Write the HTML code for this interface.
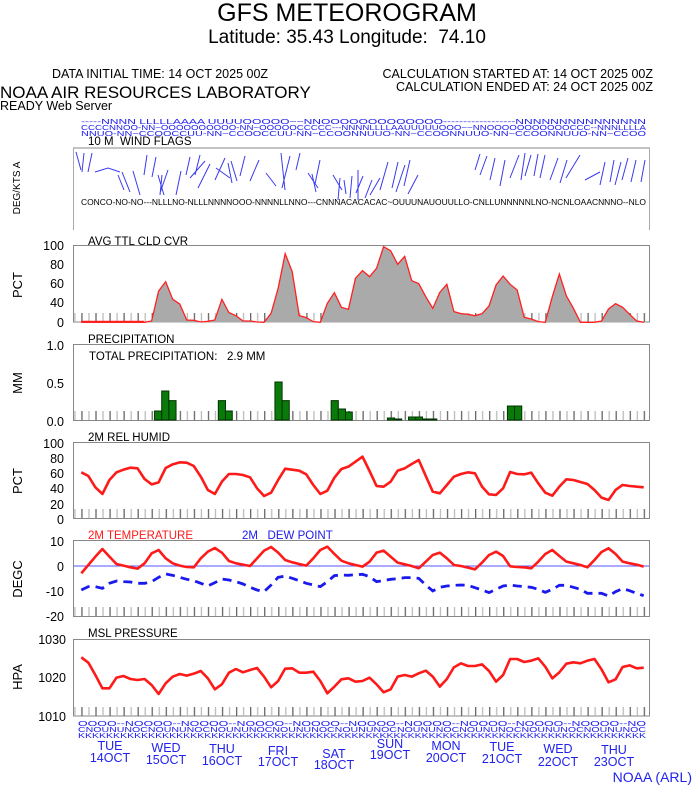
<!DOCTYPE html>
<html><head><meta charset="utf-8"><style>
html,body{margin:0;padding:0;background:#fff;}
svg{display:block;font-family:"Liberation Sans",sans-serif;}
svg text{white-space:pre;}
</style></head><body>
<svg width="694" height="788" viewBox="0 0 694 788" xmlns="http://www.w3.org/2000/svg">
<defs>
<pattern id="tk" patternUnits="userSpaceOnUse" x="81.3" y="0" width="14.06" height="10">
<rect x="0" y="0" width="1.3" height="10" fill="#666"/>
<rect x="7.03" y="0" width="1.3" height="10" fill="#bbb"/>
</pattern>
</defs>
<rect width="694" height="788" fill="#fff"/>
<text x="347" y="21" font-size="25" text-anchor="middle">GFS METEOROGRAM</text>
<text x="347" y="43" font-size="19" text-anchor="middle">Latitude: 35.43 Longitude:  74.10</text>
<text x="52" y="78" font-size="12.5">DATA INITIAL TIME: 14 OCT 2025 00Z</text>
<text x="653" y="78" font-size="12.5" text-anchor="end">CALCULATION STARTED AT: 14 OCT 2025 00Z</text>
<text x="653" y="91" font-size="12.5" text-anchor="end">CALCULATION ENDED AT: 24 OCT 2025 00Z</text>
<text x="0" y="98" font-size="17">NOAA AIR RESOURCES LABORATORY</text>
<text x="0" y="110" font-size="12.5">READY Web Server</text>
<g fill="#2222ee" font-size="7">
<text x="81" y="124" textLength="565" lengthAdjust="spacingAndGlyphs">-----NNNN LLLLLAAAA UUUUOOOOO~~NNOOOOOOOOOOOOO------------------NNNNNNNNNNNNNNN</text>
<text x="81" y="130" textLength="565" lengthAdjust="spacingAndGlyphs">CCCCNNOO-NN~OOOOOOOOOO-NN~OOOOOCCCCC---NNNNLLLLAAUUUUUOOO~~NNOOOOOOOOOOOCCC--NNNLLLLA</text>
<text x="81" y="136" textLength="565" lengthAdjust="spacingAndGlyphs">NNUO-NN~CCOOCCUU-NN~CCOOCCUU-NN~CCOONNUUO-NN~CCOONNUUO-NN~CCOONNUUO-NN~CCOO</text>
</g>
<text x="88" y="145" font-size="11.5">10 M  WIND FLAGS</text>
<line x1="73" y1="148" x2="650" y2="148" stroke="#888"/>
<line x1="73.5" y1="148" x2="73.5" y2="230" stroke="#aaa"/>
<line x1="649.5" y1="148" x2="649.5" y2="230" stroke="#aaa"/>
<text transform="translate(20,188) rotate(-90)" font-size="10" text-anchor="middle">DEG/KTS A</text>
<g stroke="#3a3aee" stroke-width="1" fill="none">
<path d="M76 152 L81 170 M84 153 L82 172 M92 153 L88 172 M95 172 L108 168 L120 172 M118 175 L124 190 M122 172 L130 192 M133 171 L140 195 M147 155 L144 175 M156 157 L152 177 M158 175 L164 195 M162 175 L160 195 M168 170 L160 193 M181 171 L176 195 M190 157 L186 175 M200 155 L195 175 M205 161 L190 178 M210 164 L198 188 M216 168 L230 178 M225 158 L215 180 M228 163 L232 183 M231 161 L237 181 M245 156 L240 176 M259 160 L250 181 M266 173 L276 186 M281 153 L285 190 M290 156 L282 188 M300 153 L296 170 M308 173 L318 188 M312 174 L316 192 M320 160 L315 184 M333 175 L342 190 M340 178 L338 200 M344 180 L346 194 M352 176 L350 198 M358 170 L358 200 M363 176 L356 193 M372 180 L365 198 M380 178 L370 195 M388 162 L380 190 M398 162 L392 188 M405 165 L396 192 M410 160 L404 186 M418 175 L408 194 M480 154 L475 170 M487 156 L480 175 M495 158 L490 180 M505 160 L500 186 M519 155 L510 178 M525 153 L521 180 M531 155 L525 176 M538 154 L534 176 M545 155 L540 178 M558 158 L550 180 M567 160 L560 183 M580 155 L566 178 M600 172 L585 180 M605 162 L600 185 M614 160 L610 182 M621 162 L615 185 M628 158 L622 180 M636 160 L631 182 M645 160 L641 182"/>
</g>
<text x="81" y="205" font-size="8.5" textLength="565" lengthAdjust="spacingAndGlyphs">CONCO-NO-NO---NLLLNO-NLLLNNNNOOO-NNNNLLNNO---CNNNACACACAC~OUUUNAUOUULLO-CNLLUNNNNNLNO-NCNLOAACNNNO--NLO</text>

<text x="88" y="245" font-size="11.5">AVG TTL CLD CVR</text>
<rect x="73.5" y="245.5" width="576" height="76.5" fill="#fff" stroke="#888"/>
<rect x="74" y="313" width="575" height="9" fill="url(#tk)"/>
<g transform="translate(81.3,235) scale(7.03,0.3333)">
<polygon fill="#aaaaaa" points="0,262 1,262 2,262 3,262 4,262 5,262 6,262 7,262 8,262 9,262 10,258 11,168 12,140 13,193 14,207 15,255 16,256 17,261 18,259 19,255 20,193 21,233 22,242 23,258 24,258 25,261 26,262 27,235 28,160 29,56 30,110 31,242 32,248 33,260 34,262 35,205 36,173 37,217 38,223 39,130 40,107 41,125 42,100 43,35 44,47 45,88 46,64 47,137 48,146 49,185 50,220 51,172 52,148 53,230 54,236 55,238 56,242 57,236 58,213 59,150 60,123 61,148 62,165 63,247 64,252 65,260 66,262 67,185 68,117 69,183 70,220 71,262 72,262 73,262 74,258 75,222 76,206 77,217 78,238 79,258 80,262"/>
<polyline fill="none" stroke="#ff2020" stroke-width="1.3" vector-effect="non-scaling-stroke" points="0,262 1,262 2,262 3,262 4,262 5,262 6,262 7,262 8,262 9,262 10,258 11,168 12,140 13,193 14,207 15,255 16,256 17,261 18,259 19,255 20,193 21,233 22,242 23,258 24,258 25,261 26,262 27,235 28,160 29,56 30,110 31,242 32,248 33,260 34,262 35,205 36,173 37,217 38,223 39,130 40,107 41,125 42,100 43,35 44,47 45,88 46,64 47,137 48,146 49,185 50,220 51,172 52,148 53,230 54,236 55,238 56,242 57,236 58,213 59,150 60,123 61,148 62,165 63,247 64,252 65,260 66,262 67,185 68,117 69,183 70,220 71,262 72,262 73,262 74,258 75,222 76,206 77,217 78,238 79,258 80,262"/>
</g>
<polyline fill="none" stroke="#ff2020" stroke-width="1.5" points="81,321.5 144,321.5"/>
<g font-size="12.5" text-anchor="end">
<text x="64" y="250">100</text><text x="64" y="269">80</text><text x="64" y="288">60</text><text x="64" y="307">40</text><text x="64" y="327">0</text>
</g>
<text transform="translate(22,285) rotate(-90)" font-size="13" text-anchor="middle">PCT</text>

<text x="88" y="343" font-size="11.5">PRECIPITATION</text>
<rect x="73.5" y="344.5" width="576" height="76" fill="#fff" stroke="#888"/>
<rect x="74" y="411" width="575" height="9" fill="url(#tk)"/>
<text x="89" y="360" font-size="11.5">TOTAL PRECIPITATION:   2.9 MM</text>
<g transform="translate(70,235) scale(0.3774,0.3333)" fill="#0a7a0a" stroke="#003300" stroke-width="1">
<rect x="224" y="528" width="19" height="27" vector-effect="non-scaling-stroke"/>
<rect x="243" y="468" width="19" height="87" vector-effect="non-scaling-stroke"/>
<rect x="262" y="497" width="19" height="58" vector-effect="non-scaling-stroke"/>
<rect x="393" y="497" width="19" height="58" vector-effect="non-scaling-stroke"/>
<rect x="412" y="528" width="18" height="27" vector-effect="non-scaling-stroke"/>
<rect x="543" y="441" width="19" height="114" vector-effect="non-scaling-stroke"/>
<rect x="562" y="497" width="19" height="58" vector-effect="non-scaling-stroke"/>
<rect x="692" y="497" width="19" height="58" vector-effect="non-scaling-stroke"/>
<rect x="711" y="522" width="19" height="33" vector-effect="non-scaling-stroke"/>
<rect x="730" y="531" width="18" height="24" vector-effect="non-scaling-stroke"/>
<rect x="841" y="549" width="19" height="6" vector-effect="non-scaling-stroke"/>
<rect x="860" y="552" width="19" height="3" vector-effect="non-scaling-stroke"/>
<rect x="897" y="546" width="19" height="9" vector-effect="non-scaling-stroke"/>
<rect x="916" y="546" width="18" height="9" vector-effect="non-scaling-stroke"/>
<rect x="934" y="552" width="38" height="3" vector-effect="non-scaling-stroke"/>
<rect x="1159" y="513" width="19" height="42" vector-effect="non-scaling-stroke"/>
<rect x="1178" y="513" width="19" height="42" vector-effect="non-scaling-stroke"/>
</g>
<g font-size="12.5" text-anchor="end">
<text x="64" y="350">1.0</text><text x="64" y="388">0.5</text><text x="64" y="426">0.0</text>
</g>
<text transform="translate(22,383) rotate(-90)" font-size="13" text-anchor="middle">MM</text>

<text x="88" y="441" font-size="11.5">2M REL HUMID</text>
<rect x="73.5" y="442.5" width="576" height="76" fill="#fff" stroke="#888"/>
<rect x="74" y="509" width="575" height="9" fill="url(#tk)"/>
<g transform="translate(81.3,430) scale(7.03,0.3333)">
<polyline fill="none" stroke="#ff1a1a" stroke-width="2.6" vector-effect="non-scaling-stroke" stroke-linejoin="round" points="0,127 1,138 2,172 3,192 4,150 5,127 6,119 7,113 8,115 9,147 10,163 11,157 12,114 13,103 14,97 15,98 16,108 17,140 18,180 19,192 20,155 21,132 22,132 23,135 24,142 25,175 26,198 27,188 28,150 29,116 30,119 31,122 32,133 33,165 34,192 35,182 36,143 37,117 38,110 39,95 40,80 41,123 42,168 43,170 44,155 45,122 46,115 47,102 48,90 49,138 50,185 51,190 52,165 53,140 54,132 55,127 56,130 57,170 58,193 59,195 60,175 61,126 62,132 63,133 64,128 65,160 66,188 67,197 68,170 69,148 70,150 71,156 72,162 73,180 74,203 75,210 76,180 77,165 78,168 79,170 80,172"/>
</g>
<g font-size="12.5" text-anchor="end">
<text x="64" y="448">100</text><text x="64" y="463">80</text><text x="64" y="478">60</text><text x="64" y="493">40</text><text x="64" y="509">20</text><text x="64" y="524">0</text>
</g>
<text transform="translate(22,481) rotate(-90)" font-size="13" text-anchor="middle">PCT</text>

<text x="88" y="539" font-size="11.5" fill="#ff1a1a">2M TEMPERATURE</text>
<text x="242" y="539" font-size="11.5" fill="#1a1aee">2M   DEW POINT</text>
<rect x="73.5" y="540.5" width="576" height="76" fill="#fff" stroke="#888"/>
<rect x="74" y="607" width="575" height="9" fill="url(#tk)"/>
<line x1="74" y1="566" x2="649" y2="566" stroke="#5555ff" stroke-width="1"/>
<g transform="translate(81.3,430) scale(7.03,0.3333)">
<polyline fill="none" stroke="#ff1a1a" stroke-width="2.6" vector-effect="non-scaling-stroke" stroke-linejoin="round" points="0,430 1,405 2,380 3,357 4,380 5,402 6,407 7,412 8,416 9,400 10,370 11,360 12,385 13,400 14,407 15,411 16,412 17,385 18,365 19,354 20,368 21,393 22,400 23,404 24,408 25,385 26,362 27,351 28,368 29,390 30,397 31,402 32,407 33,385 34,360 35,350 36,372 37,392 38,400 39,405 40,410 41,395 42,368 43,362 44,380 45,398 46,403 47,408 48,415 49,395 50,375 51,368 52,385 53,405 54,408 55,413 56,418 57,398 58,375 59,365 60,378 61,409 62,411 63,412 64,415 65,395 66,372 67,360 68,378 69,395 70,400 71,405 72,412 73,390 74,366 75,355 76,372 77,395 78,400 79,404 80,410"/>
<polyline fill="none" stroke="#1a1aee" stroke-width="2.8" vector-effect="non-scaling-stroke" stroke-dasharray="9,6" points="0,480 1,470 2,470 3,475 4,460 5,453 6,455 7,456 8,460 9,460 10,455 11,442 12,432 13,436 14,442 15,448 16,452 17,460 18,468 19,458 20,447 21,450 22,455 23,462 24,472 25,480 26,485 27,465 28,442 29,438 30,445 31,452 32,460 33,465 34,470 35,455 36,437 37,435 38,436 39,434 40,433 41,440 42,455 43,452 44,448 45,446 46,443 47,443 48,445 49,465 50,483 51,472 52,468 53,466 54,465 55,466 56,473 57,480 58,488 59,478 60,468 61,465 62,468 63,470 64,472 65,478 66,487 67,478 68,466 69,466 70,472 71,478 72,490 73,490 74,490 75,498 76,485 77,476 78,482 79,490 80,497"/>
</g>
<g font-size="12.5" text-anchor="end">
<text x="64" y="546">10</text><text x="64" y="571">0</text><text x="64" y="596">-10</text><text x="64" y="621">-20</text>
</g>
<text transform="translate(22,579) rotate(-90)" font-size="13" text-anchor="middle">DEGC</text>

<text x="88" y="637" font-size="11.5">MSL PRESSURE</text>
<rect x="73.5" y="639.5" width="576" height="76.5" fill="#fff" stroke="#888"/>
<rect x="74" y="707" width="575" height="9" fill="url(#tk)"/>
<g transform="translate(81.3,625) scale(7.03,0.3333)">
<polyline fill="none" stroke="#ff1a1a" stroke-width="2.6" vector-effect="non-scaling-stroke" stroke-linejoin="round" points="0,97 1,113 2,150 3,190 4,190 5,158 6,153 7,162 8,165 9,162 10,180 11,207 12,175 13,155 14,147 15,152 16,146 17,138 18,160 19,193 20,178 21,143 22,132 23,142 24,135 25,129 26,155 27,187 28,168 29,131 30,130 31,143 32,143 33,140 34,168 35,205 36,185 37,163 38,160 39,170 40,168 41,158 42,178 43,202 44,193 45,155 46,150 47,155 48,145 49,137 50,155 51,185 52,162 53,127 54,115 55,123 56,123 57,118 58,138 59,170 60,150 61,102 62,102 63,111 64,107 65,100 66,125 67,160 68,142 69,116 70,112 71,115 72,107 73,102 74,133 75,172 76,163 77,126 78,121 79,130 80,128"/>
</g>
<g font-size="12.5" text-anchor="end">
<text x="66" y="644">1030</text><text x="66" y="682">1020</text><text x="66" y="721">1010</text>
</g>
<text transform="translate(22,677) rotate(-90)" font-size="13" text-anchor="middle">HPA</text>

<g fill="#2222ee" font-size="7">
<text x="78" y="726" textLength="568" lengthAdjust="spacingAndGlyphs">OOOO--NOOOO--NOOOO--NOOOO--NOOOO--NOOOO--NOOOO--NOOOO--NOOOO--NOOOO--NO</text>
<text x="78" y="732" textLength="568" lengthAdjust="spacingAndGlyphs">CNOUNUNOCNOUNUNOCNOUNUNOCNOUNUNOCNOUNUNOCNOUNUNOCNOUNUNOCNOUNUNOCNOUNUNOC</text>
<text x="78" y="738" textLength="568" lengthAdjust="spacingAndGlyphs">KKKKKKKKKKKKKKKKKKKKKKKKKKKKKKKKKKKKKKKKKKKKKKKKKKKKKKKKKKKKKKKKKKKKKKKKKKKKKKKKK</text>
</g>
<g fill="#2222ee" font-size="12.5" text-anchor="middle">
<text x="110" y="750">TUE</text><text x="110" y="762">14OCT</text>
<text x="166" y="752">WED</text><text x="166" y="764">15OCT</text>
<text x="222" y="753">THU</text><text x="222" y="765">16OCT</text>
<text x="278" y="755">FRI</text><text x="278" y="766">17OCT</text>
<text x="334" y="758">SAT</text><text x="334" y="769">18OCT</text>
<text x="390" y="748">SUN</text><text x="390" y="759">19OCT</text>
<text x="446" y="750">MON</text><text x="446" y="762">20OCT</text>
<text x="502" y="751">TUE</text><text x="502" y="763">21OCT</text>
<text x="558" y="753">WED</text><text x="558" y="766">22OCT</text>
<text x="614" y="754">THU</text><text x="614" y="766">23OCT</text>
</g>
<text x="692" y="782" fill="#2222ee" font-size="14" text-anchor="end">NOAA (ARL)</text>
</svg>
</body></html>
